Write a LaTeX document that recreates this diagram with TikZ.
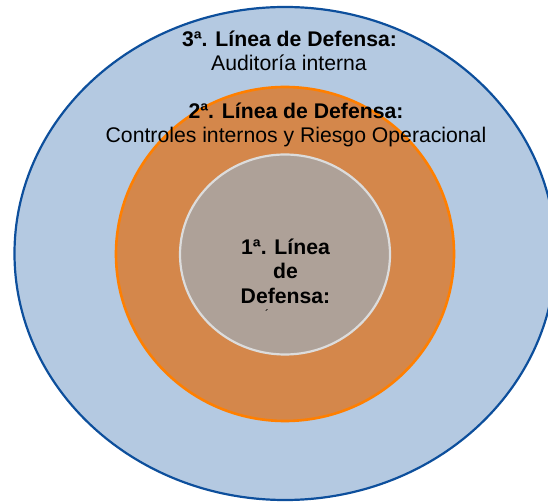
\documentclass[tikz,border=0pt]{standalone}
\usepackage{fontspec}
\setmainfont{Liberation Sans}
\usetikzlibrary{shapes.geometric}
\definecolor{outerfill}{HTML}{B4C9E1}
\definecolor{outerline}{HTML}{0D4F9C}
\definecolor{midfill}{HTML}{D4874B}
\definecolor{midline}{HTML}{FF7F00}
\definecolor{innerfill}{HTML}{AEA198}
\definecolor{innerline}{HTML}{DCDCDC}
\tikzset{
  ring/.style={ellipse, inner sep=0pt, outer sep=0pt},
  lbl/.style={anchor=base, inner sep=0pt, font=\fontsize{21.2}{24}\selectfont},
  lblb/.style={lbl, font=\fontsize{21.2}{24}\selectfont\bfseries},
}
\begin{document}
\begin{tikzpicture}[x=1pt,y=-1pt]
\useasboundingbox (0,0) rectangle (548,502);
\clip (0,0) rectangle (548,502);
\node[ring, draw=outerline, fill=outerfill, line width=2.2pt,
      minimum width=541pt, minimum height=493pt] (outer) at (285,253.5) {};
\node[ring, draw=midline, fill=midfill, line width=2.6pt,
      minimum width=338pt, minimum height=334pt] (mid) at (285,254) {};
\node[ring, draw=innerline, fill=innerfill, line width=2.2pt,
      minimum width=210pt, minimum height=200pt] (inner) at (285,254.5) {};
\node[lblb] (t3) at (289.5,47) {3ª. Línea de Defensa:};
\node[lbl] (a3) at (289,71) {Auditoría interna};
\node[lblb] (t2) at (296,119) {2ª. Línea de Defensa:};
\node[lbl] (a2) at (296,143) {Controles internos y Riesgo Operacional};
\node[lblb] (t1a) at (285.5,255) {1ª. Línea};
\node[lblb] (t1b) at (285.5,279) {de};
\node[lblb] (t1c) at (285.5,303) {Defensa:};
\node[lbl, font=\fontsize{12}{14}\selectfont] (acc) at (267,318) {´};
\end{tikzpicture}
\end{document}
